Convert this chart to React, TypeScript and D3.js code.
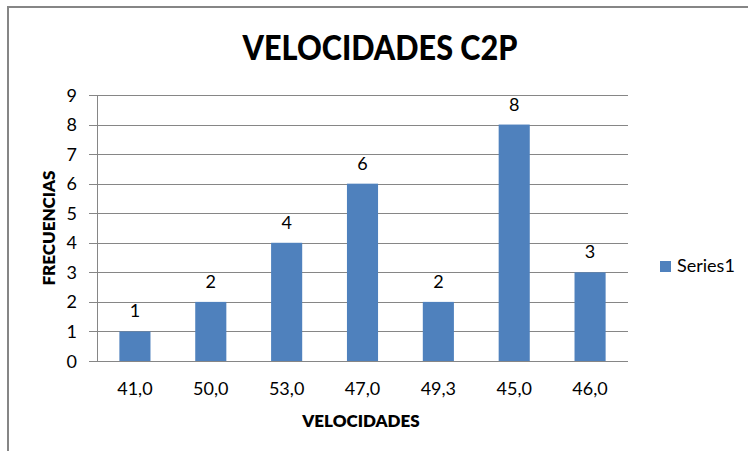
import React from "react";
import * as d3 from "d3";

const categories = ["41,0", "50,0", "53,0", "47,0", "49,3", "45,0", "46,0"];
const values = [1, 2, 4, 6, 2, 8, 3];
const yTicks = [0, 1, 2, 3, 4, 5, 6, 7, 8, 9];
const seriesName = "Series1";
const title = "VELOCIDADES C2P";
const xTitle = "VELOCIDADES";
const yTitle = "FRECUENCIAS";

const W = 748;
const H = 451;
const FONT = "Lato, 'Open Sans', sans-serif";
const GRID = "#868686";
const BAR = "#4F81BD";

export default function App() {
  const plot = { left: 97, right: 628, top: 95, bottom: 361 };
  const x = d3
    .scaleBand<string>()
    .domain(categories)
    .range([plot.left, plot.right])
    .paddingInner(0.59)
    .paddingOuter(0.295);
  const y = d3.scaleLinear().domain([0, 9]).range([plot.bottom, plot.top]);

  return (
    <svg
      width={W}
      height={H}
      style={{ position: "absolute", left: 0, top: 0, display: "block", background: "#fff" }}
    >
      {/* chart border */}
      <rect x={8} y={7} width={W + 10} height={H + 10} fill="#fff" stroke={GRID} strokeWidth={2} />

      {/* title */}
      <text
        x={380}
        y={60}
        textAnchor="middle"
        fontFamily={FONT}
        fontWeight={900}
        fontSize={34}
        textLength={275}
        lengthAdjust="spacingAndGlyphs"
        fill="#000"
      >
        {title}
      </text>

      {/* gridlines */}
      {yTicks.map((t) => (
        <line
          key={"g" + t}
          x1={plot.left - 8}
          x2={plot.right}
          y1={Math.round(y(t)) + 0.5}
          y2={Math.round(y(t)) + 0.5}
          stroke={GRID}
          strokeWidth={1}
        />
      ))}
      {/* y axis line */}
      <line
        x1={plot.left + 0.5}
        x2={plot.left + 0.5}
        y1={plot.top}
        y2={plot.bottom}
        stroke={GRID}
        strokeWidth={1}
      />

      {/* y tick labels */}
      {yTicks.map((t) => (
        <text
          key={"yt" + t}
          x={77}
          y={y(t) + 6.5}
          textAnchor="end"
          fontFamily={FONT}
          fontSize={18}
          fill="#000"
        >
          {t}
        </text>
      ))}

      {/* bars */}
      {values.map((v, i) => (
        <rect
          key={"b" + i}
          x={x(categories[i])}
          y={y(v)}
          width={x.bandwidth()}
          height={y(0) - y(v)}
          fill={BAR}
        />
      ))}

      {/* data labels */}
      {values.map((v, i) => (
        <text
          key={"dl" + i}
          x={(x(categories[i]) as number) + x.bandwidth() / 2}
          y={y(v) - 14}
          textAnchor="middle"
          fontFamily={FONT}
          fontSize={18}
          fill="#000"
        >
          {v}
        </text>
      ))}

      {/* x tick labels */}
      {categories.map((c) => (
        <text
          key={"xt" + c}
          x={(x(c) as number) + x.bandwidth() / 2}
          y={395}
          textAnchor="middle"
          fontFamily={FONT}
          fontSize={18}
          fill="#000"
        >
          {c}
        </text>
      ))}

      {/* axis titles */}
      <text
        x={361}
        y={427}
        textAnchor="middle"
        fontFamily={FONT}
        fontWeight={800}
        fontSize={17}
        fill="#000"
      >
        {xTitle}
      </text>
      <text
        transform={`translate(55,228) rotate(-90)`}
        textAnchor="middle"
        fontFamily={FONT}
        fontWeight={800}
        fontSize={17}
        fill="#000"
      >
        {yTitle}
      </text>

      {/* legend */}
      <rect x={660} y={261} width={11} height={11} fill={BAR} />
      <text x={677} y={272} fontFamily={FONT} fontSize={18} fill="#000">
        {seriesName}
      </text>
    </svg>
  );
}
